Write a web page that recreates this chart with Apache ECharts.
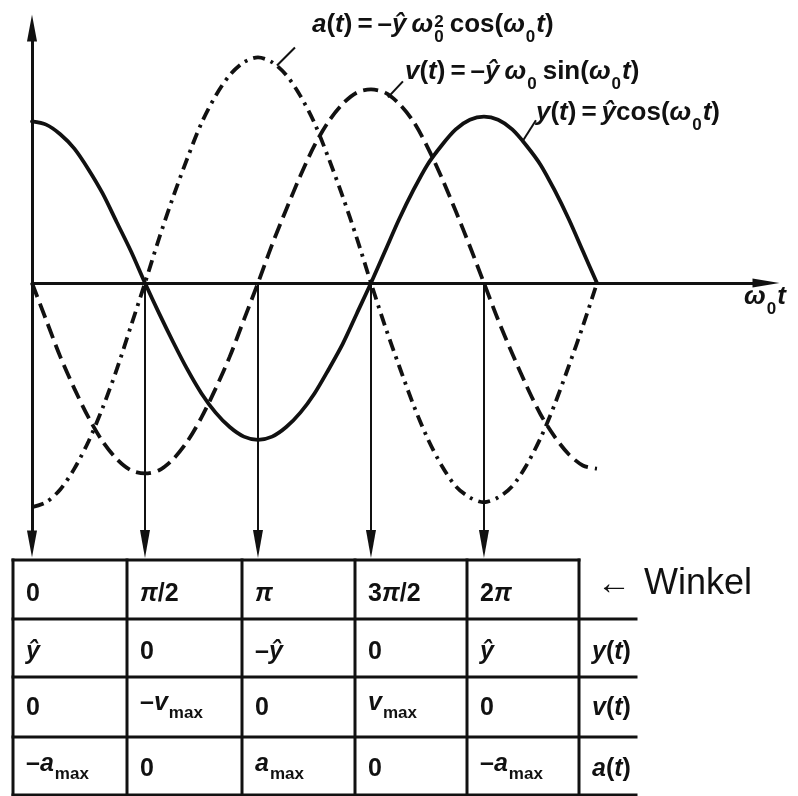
<!DOCTYPE html>
<html>
<head>
<meta charset="utf-8">
<script src="https://cdn.jsdelivr.net/npm/echarts@6/dist/echarts.min.js"></script>
<style>
  html, body { margin: 0; padding: 0; background: #fff; }
  #chart { width: 798px; height: 796px; }
</style>
</head>
<body>
<div id="chart"></div>
<script>
// Phase ω0·t in multiples of π (steps of π/16)
const phase = [0, 0.0625, 0.125, 0.1875, 0.25, 0.3125, 0.375, 0.4375, 0.5,
               0.5625, 0.625, 0.6875, 0.75, 0.8125, 0.875, 0.9375, 1,
               1.0625, 1.125, 1.1875, 1.25, 1.3125, 1.375, 1.4375, 1.5,
               1.5625, 1.625, 1.6875, 1.75, 1.8125, 1.875, 1.9375, 2,
               2.0625, 2.125, 2.1875, 2.25, 2.3125, 2.375, 2.4375, 2.5];
// Displacement y(t), in units of ŷ
const displacement = [1.01, 0.99, 0.93, 0.84, 0.71, 0.56, 0.38, 0.20, 0,
                      -0.19, -0.37, -0.54, -0.69, -0.81, -0.90, -0.96, -0.98,
                      -0.96, -0.90, -0.81, -0.69, -0.54, -0.38, -0.19, 0,
                      0.20, 0.40, 0.58, 0.74, 0.86, 0.96, 1.02, 1.04,
                      1.02, 0.96, 0.86, 0.74, 0.58, 0.40, 0.20, 0];
// Velocity v(t)
const velocity = [0, -0.23, -0.46, -0.66, -0.84, -0.99, -1.10, -1.17, -1.19,
                  -1.17, -1.10, -0.99, -0.84, -0.66, -0.46, -0.23, 0,
                  0.24, 0.46, 0.67, 0.86, 1.01, 1.12, 1.19, 1.21,
                  1.19, 1.12, 1.01, 0.85, 0.66, 0.45, 0.23, 0,
                  -0.23, -0.44, -0.64, -0.82, -0.96, -1.07, -1.14, -1.16];
// Acceleration a(t)
const acceleration = [-1.40, -1.37, -1.29, -1.16, -0.99, -0.78, -0.54, -0.27, 0,
                      0.28, 0.54, 0.78, 1.00, 1.17, 1.30, 1.38, 1.41,
                      1.38, 1.30, 1.17, 1.00, 0.78, 0.54, 0.28, 0,
                      -0.27, -0.52, -0.76, -0.97, -1.14, -1.27, -1.34, -1.37,
                      -1.34, -1.27, -1.14, -0.97, -0.76, -0.52, -0.27, 0];
// Phases that are projected down into the table
const markPhases = [0.5, 1, 1.5, 2];

// Table contents ( _x = subscript )
const angleLabels = ['0', 'π/2', 'π', '3π/2', '2π'];
const yRow = ['ŷ', '0', '–ŷ', '0', 'ŷ'];
const vRow = ['0', '–v_{max}', '0', 'v_{max}', '0'];
const aRow = ['–a_{max}', '0', 'a_{max}', '0', '–a_{max}'];
const rowNames = ['y(t)', 'v(t)', 'a(t)'];

// Curve captions
const captionA = 'a(t) = –ŷ ω_0^2 cos(ω_0t)';
const captionV = 'v(t) = –ŷ ω_0 sin(ω_0t)';
const captionY = 'y(t) = ŷcos(ω_0t)';
const axisName = 'ω_0t';

const Y_MIN = -1.631, Y_MAX = 1.594, X_MAX = 3.248;
const INK = '#111';
const FAMILY = '"Liberation Sans", Arial, sans-serif';
const ITALIC = 'atvyŷπω';

const chart = echarts.init(document.getElementById('chart'), null, { renderer: 'canvas' });

function pairs(values) { return phase.map((p, i) => [p, values[i]]); }

const arrowLines = markPhases.map(p => [
  { coord: [p, 0], symbol: 'none' },
  { coord: [p, Y_MIN], symbol: 'triangle', symbolSize: [10, 28] }
]);

chart.setOption({
  animation: false,
  backgroundColor: '#fff',
  grid: { left: 32, right: 32, top: 28, bottom: 252, containLabel: false },
  xAxis: {
    type: 'value', min: 0, max: X_MAX,
    axisLine: { show: true, onZero: true, symbol: ['none', 'triangle'], symbolSize: [9, 27],
                lineStyle: { color: INK, width: 3 } },
    axisTick: { show: false }, axisLabel: { show: false }, splitLine: { show: false }
  },
  yAxis: {
    type: 'value', min: Y_MIN, max: Y_MAX,
    axisLine: { show: true, onZero: false, symbol: ['triangle', 'triangle'], symbolSize: [10, 27],
                lineStyle: { color: INK, width: 3 } },
    axisTick: { show: false }, axisLabel: { show: false }, splitLine: { show: false }
  },
  series: [
    {
      name: 'y(t)', type: 'line', data: pairs(displacement), smooth: 0.3,
      showSymbol: false, silent: true, z: 4,
      lineStyle: { color: INK, width: 3.8, type: 'solid', cap: 'round', join: 'round' },
      markLine: {
        silent: true, animation: false,
        label: { show: false },
        lineStyle: { color: INK, width: 2, type: 'solid' },
        data: arrowLines
      }
    },
    {
      name: 'v(t)', type: 'line', data: pairs(velocity), smooth: 0.3,
      showSymbol: false, silent: true, z: 3,
      lineStyle: { color: INK, width: 3.8, type: [15, 7], cap: 'butt' }
    },
    {
      name: 'a(t)', type: 'line', data: pairs(acceleration), smooth: 0.3,
      showSymbol: false, silent: true, z: 3,
      lineStyle: { color: INK, width: 3.8, type: [12, 6, 3, 6], cap: 'butt' }
    }
  ]
});

// ---- text layout helpers (italic variables, sub/superscripts) ----
const measureCtx = document.createElement('canvas').getContext('2d');
function measure(font, text) { measureCtx.font = font; return measureCtx.measureText(text).width; }
function fontOf(kind, size, weight) {
  return (kind === 'i' ? 'italic ' : '') + weight + ' ' + size + 'px ' + FAMILY;
}
function readArg(s, i) {
  if (s[i] === '{') { const j = s.indexOf('}', i); return [s.slice(i + 1, j), j + 1]; }
  return [s[i], i + 1];
}
function parse(str) {
  const segs = [];
  let i = 0;
  while (i < str.length) {
    const c = str[i];
    if (c === '_') {
      let sub, sup = null;
      [sub, i] = readArg(str, i + 1);
      if (str[i] === '^') { [sup, i] = readArg(str, i + 1); }
      segs.push({ kind: 'sub', text: sub, sup });
    } else if (c === ' ') {
      segs.push({ kind: 'space' });
      i++;
    } else {
      const kind = ITALIC.includes(c) ? 'i' : 'u';
      const last = segs[segs.length - 1];
      if (last && last.kind === kind) last.text += c; else segs.push({ kind, text: c });
      i++;
    }
  }
  return segs;
}
function textEl(text, x, baseline, size, font) {
  return {
    type: 'text', x, y: baseline - 0.33 * size, silent: true, z: 20,
    style: { text, font, fill: INK, align: 'left', verticalAlign: 'middle' }
  };
}
// opts: size, weight, space, subScale, subDrop, supRise, mainRise (when a subscript is present)
function layout(str, x0, baseline, opts, out) {
  const segs = parse(str);
  const hasSub = segs.some(s => s.kind === 'sub');
  const base = baseline - (hasSub ? (opts.mainRise || 0) : 0);
  let x = x0;
  segs.forEach(s => {
    if (s.kind === 'space') {
      x += opts.space;
    } else if (s.kind === 'sub') {
      const sz = Math.round(opts.size * opts.subScale);
      const f = fontOf('u', sz, opts.weight);
      let w = measure(f, s.text);
      out.push(textEl(s.text, x + 1, base + opts.subDrop, sz, f));
      if (s.sup) {
        out.push(textEl(s.sup, x + 1, base - opts.supRise, sz, f));
        w = Math.max(w, measure(f, s.sup));
      }
      x += w + 2;
    } else {
      const f = fontOf(s.kind, opts.size, opts.weight);
      out.push(textEl(s.text, x, base, opts.size, f));
      x += measure(f, s.text);
    }
  });
  return x;
}

function drawAnnotations() {
  const g = [];
  const capOpts = { size: 26, weight: 'bold', space: 5, subScale: 0.66, subDrop: 10, supRise: 5 };

  // curve captions with leader strokes anchored on the curves
  const captions = [
    { text: captionA, x: 312, base: 33, anchor: [1.084, 1.36], dx: 18, dy: -18 },
    { text: captionV, x: 405, base: 80, anchor: [1.575, 1.16], dx: 15, dy: -16 },
    { text: captionY, x: 536, base: 121, anchor: [2.168, 0.88], dx: 14, dy: -22 }
  ];
  captions.forEach(c => {
    layout(c.text, c.x, c.base, capOpts, g);
    const p = chart.convertToPixel({ gridIndex: 0 }, c.anchor);
    g.push({ type: 'line', silent: true, z: 20,
      shape: { x1: p[0], y1: p[1], x2: p[0] + c.dx, y2: p[1] + c.dy },
      style: { stroke: INK, lineWidth: 2 } });
  });

  // axis name
  layout(axisName, 744, 305, capOpts, g);

  // ---- table ----
  const colX = [13, 127, 242, 355, 467, 579];
  const labelRight = 636;
  const rowY = [560, 619, 677, 737, 795];
  const line = (x1, y1, x2, y2) => g.push({ type: 'line', silent: true, z: 15,
    shape: { x1, y1, x2, y2 }, style: { stroke: INK, lineWidth: 3, lineCap: 'square' } });
  colX.forEach(x => line(x, rowY[0], x, rowY[4]));
  line(colX[0], rowY[0], colX[5], rowY[0]);
  for (let r = 1; r < rowY.length; r++) line(colX[0], rowY[r], labelRight, rowY[r]);

  const cellOpts = { size: 25, weight: 'bold', space: 5, subScale: 0.68, subDrop: 8, mainRise: 5 };
  const rows = [angleLabels, yRow, vRow, aRow];
  const baselines = [602, 660, 716, 777];
  rows.forEach((row, r) => {
    row.forEach((txt, c) => layout(txt, colX[c] + 13, baselines[r], cellOpts, g));
  });
  rowNames.forEach((txt, r) => layout(txt, colX[5] + 13, baselines[r + 1], cellOpts, g));

  // column heading pointer
  g.push(textEl('←', 597, 596, 34, 'normal 34px ' + FAMILY));
  g.push(textEl('Winkel', 644, 596, 36, 'normal 36px ' + FAMILY));

  chart.setOption({ graphic: g });
}
drawAnnotations();
</script>
</body>
</html>
